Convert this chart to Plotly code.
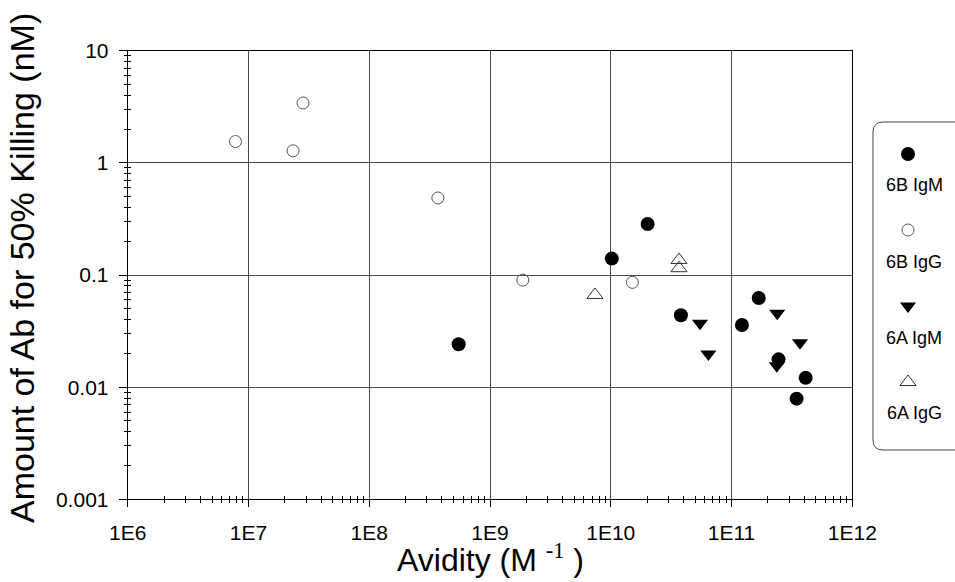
import plotly.graph_objects as go

# ---------------- data ----------------
igm6b_x = [5.5e8, 1.02e10, 2.02e10, 3.81e10, 1.22e11, 1.68e11, 2.45e11, 4.11e11, 3.46e11]
igm6b_y = [0.0241, 0.140, 0.285, 0.0438, 0.0358, 0.0624, 0.0177, 0.0121, 0.0079]

igg6b_x = [7.8e6, 2.34e7, 2.83e7, 3.7e8, 1.87e9, 1.51e10]
igg6b_y = [1.55, 1.28, 3.42, 0.486, 0.090, 0.086]

igm6a_x = [5.48e10, 6.43e10, 2.39e11, 3.69e11, 2.37e11]
igm6a_y = [0.0371, 0.0198, 0.0455, 0.0249, 0.0155]

igg6a_x = [7.4e9, 3.67e10, 3.67e10]
igg6a_y = [0.0664, 0.136, 0.115]

x_tickvals = [1e6, 1e7, 1e8, 1e9, 1e10, 1e11, 1e12]
x_ticktext = ["1E6", "1E7", "1E8", "1E9", "1E10", "1E11", "1E12"]
y_tickvals = [0.001, 0.01, 0.1, 1, 10]
y_ticktext = ["0.001", "0.01", "0.1", "1", "10"]

series_names = ["6B IgM", "6B IgG", "6A IgM", "6A IgG"]

# ---------------- styles ----------------
W, H = 955, 582
FONT = "Arial, Liberation Sans, sans-serif"
styles = [
    dict(symbol="circle", size=14, color="black", line=dict(width=0)),
    dict(symbol="circle-open", size=12, color="#555555", line=dict(width=1, color="#555555")),
    dict(symbol="triangle-down", size=14, color="black", line=dict(width=0)),
    dict(symbol="triangle-up-open", size=14, color="#333333", line=dict(width=1, color="#333333")),
]
data_sets = [(igm6b_x, igm6b_y), (igg6b_x, igg6b_y), (igm6a_x, igm6a_y), (igg6a_x, igg6a_y)]

x_minor = [m * 10 ** e for e in range(6, 12) for m in range(2, 10)]
y_minor = [m * 10 ** e for e in range(-3, 1) for m in range(2, 10)]

# plot area in pixels
PX0, PX1 = 127.7, 852.3
PY0, PY1 = 50.7, 499.3
xdom = [PX0 / W, PX1 / W]
ydom = [1 - PY1 / H, 1 - PY0 / H]

fig = go.Figure()
for (xs, ys), name, st in zip(data_sets, series_names, styles):
    fig.add_trace(go.Scatter(x=xs, y=ys, mode="markers", name=name, marker=st,
                             xaxis="x", yaxis="y", showlegend=False))

# custom legend (marker above label), on a pixel-based helper axis
LEG_X = 908
leg_marker_y = [154, 230, 306, 382]
leg_text_y = [185, 262, 338, 413]
for st, my, name, ty in zip(styles, leg_marker_y, series_names, leg_text_y):
    fig.add_trace(go.Scatter(x=[LEG_X], y=[my], mode="markers", marker=st,
                             xaxis="x2", yaxis="y2", showlegend=False, hoverinfo="skip",
                             cliponaxis=False))
    fig.add_annotation(x=LEG_X + 6, y=ty, xref="x2", yref="y2", text=name, showarrow=False,
                       font=dict(family=FONT, size=18, color="black"),
                       xanchor="center", yanchor="middle")

# invisible traces so overlay axes are rendered
fig.add_trace(go.Scatter(x=[1e6], y=[0.001], mode="markers", marker=dict(opacity=0),
                         xaxis="x3", yaxis="y3", showlegend=False, hoverinfo="skip"))

axis_common = dict(showline=True, linecolor="black", linewidth=1, mirror=True,
                   gridcolor="#4a4a4a", gridwidth=1, zeroline=False, automargin=False,
                   tickfont=dict(family=FONT, size=21, color="black"),
                   ticks="outside", tickcolor="black", tickwidth=1)

fig.update_layout(
    width=W, height=H,
    margin=dict(l=0, r=0, t=0, b=0, autoexpand=False),
    paper_bgcolor="white", plot_bgcolor="white",
    showlegend=False,
    xaxis=dict(type="log", range=[6, 12], domain=xdom, anchor="y",
               tickmode="array", tickvals=x_tickvals, ticktext=x_ticktext,
               ticklen=7, ticklabelstandoff=7,
               minor=dict(tickmode="array", tickvals=x_minor, ticks="outside",
                          ticklen=3, tickcolor="black", showgrid=False),
               **axis_common),
    yaxis=dict(type="log", range=[-3, 1], domain=ydom, anchor="x",
               tickmode="array", tickvals=y_tickvals, ticktext=y_ticktext,
               ticklen=8, ticklabelstandoff=6,
               minor=dict(tickmode="array", tickvals=y_minor, ticks="outside",
                          ticklen=3, tickcolor="black", showgrid=False),
               **axis_common),
    xaxis3=dict(type="log", range=[6, 12], overlaying="x", anchor="y3", side="bottom",
                showgrid=False, showticklabels=False, ticks="", zeroline=False,
                automargin=False, tickmode="array", tickvals=x_tickvals,
                minor=dict(tickmode="array", tickvals=x_minor, ticks="inside",
                           ticklen=3, tickcolor="black", showgrid=False)),
    yaxis3=dict(type="log", range=[-3, 1], overlaying="y", anchor="x3", side="left",
                showgrid=False, showticklabels=False, ticks="", zeroline=False,
                automargin=False, tickmode="array", tickvals=y_tickvals,
                minor=dict(tickmode="array", tickvals=y_minor, ticks="inside",
                           ticklen=3, tickcolor="black", showgrid=False)),
    xaxis2=dict(domain=[0.9, 1.0], range=[859.5, 955], anchor="y2", visible=False,
                fixedrange=True, automargin=False),
    yaxis2=dict(domain=[0, 1], range=[582, 0], anchor="x2", visible=False,
                fixedrange=True, automargin=False),
)

# legend box with rounded left corners (right side runs off the page)
r = 10
L, T, B, R = 873, 122, 450, 990
path = (f"M {R},{T} L {L + r},{T} Q {L},{T} {L},{T + r} L {L},{B - r} "
        f"Q {L},{B} {L + r},{B} L {R},{B}")
fig.add_shape(type="path", path=path, xref="x2", yref="y2",
              line=dict(color="#444444", width=1))

# axis titles
fig.add_annotation(x=490 / W, y=1 - 558 / H, xref="paper", yref="paper",
                   text="Avidity (M <span style='font-family:Liberation Serif'><sup>-1</sup></span> )",
                   showarrow=False, font=dict(family=FONT, size=32, color="black"),
                   xanchor="center", yanchor="middle")
fig.add_annotation(x=22 / W, y=1 - 268 / H, xref="paper", yref="paper",
                   text="Amount of Ab for 50% Killing (nM)", textangle=-90,
                   showarrow=False, font=dict(family=FONT, size=34, color="black"),
                   xanchor="center", yanchor="middle")

fig.write_html("out.html")
